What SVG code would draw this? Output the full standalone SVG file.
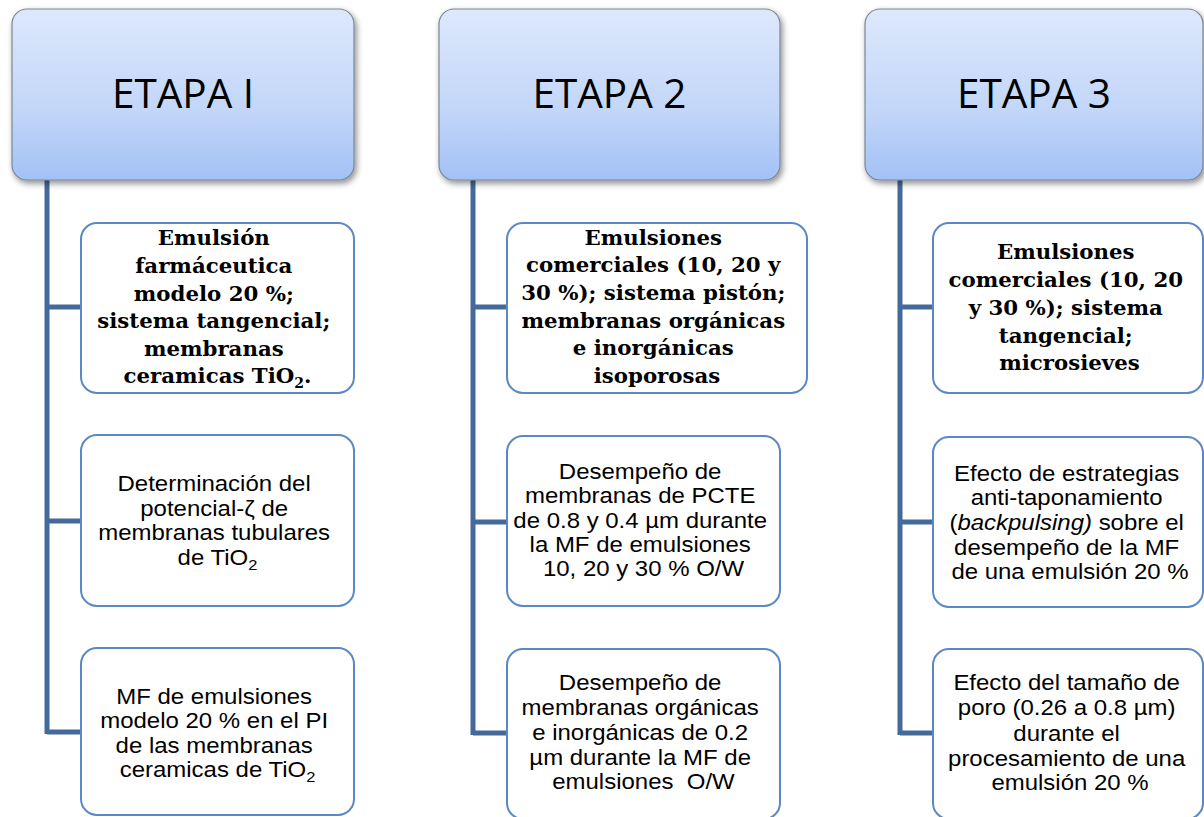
<svg xmlns="http://www.w3.org/2000/svg" width="1204" height="817" viewBox="0 0 1204 817">
<defs>
<linearGradient id="hg" x1="0" y1="0" x2="0" y2="1">
<stop offset="0" stop-color="#dde8fc"/>
<stop offset="0.6" stop-color="#c2d6f8"/>
<stop offset="1" stop-color="#a2c1f5"/>
</linearGradient>
<filter id="sh" x="-10%" y="-10%" width="125%" height="130%">
<feGaussianBlur in="SourceAlpha" stdDeviation="3"/>
<feOffset dx="2" dy="3" result="b"/>
<feComponentTransfer><feFuncA type="linear" slope="0.45"/></feComponentTransfer>
<feMerge><feMergeNode/><feMergeNode in="SourceGraphic"/></feMerge>
</filter>
</defs>
<style>
.hdr{fill:url(#hg);stroke:#7b8796;stroke-width:1.2;filter:url(#sh)}
.box{fill:#ffffff;stroke:#5b88c6;stroke-width:2}
.ht{font-family:"Open Sans","Liberation Sans",sans-serif;font-size:40.5px;fill:#000;text-anchor:middle}
.bt{font-family:"DejaVu Serif","Liberation Serif",serif;font-weight:bold;font-size:21.3px;fill:#000;text-anchor:middle}
.rt{font-family:"Liberation Sans",Arial,sans-serif;font-size:21.8px;fill:#000;text-anchor:middle}
.ln{stroke:#44699b;stroke-width:5;fill:none}
</style>
<g id="connectors">
<path class="ln" d="M47 180 V734 M47 307 H82 M47 521 H82 M47 732 H82"/>
<path class="ln" d="M473 180 V735 M473 307 H508 M473 522 H508 M473 733 H508"/>
<path class="ln" d="M900 180 V735 M900 307 H934 M900 522 H934 M900 733 H934"/>
</g>
<g id="etapa1">
<rect class="hdr" x="12" y="9" width="342" height="171" rx="15"/>
<text class="ht" x="183" y="108">ETAPA I</text>
</g>
<g id="etapa2">
<rect class="hdr" x="439" y="9" width="341" height="171" rx="15"/>
<text class="ht" x="609.5" y="108">ETAPA 2</text>
</g>
<g id="etapa3">
<rect class="hdr" x="865" y="9" width="338" height="171" rx="15"/>
<text class="ht" x="1034" y="108">ETAPA 3</text>
</g>
<g id="e1b1">
<rect class="box" x="81" y="223" width="273" height="170" rx="16"/>
<text class="bt" x="217.5">
<tspan x="217.5" y="245">Emulsión</tspan>
<tspan x="217.5" y="273">farmáceutica</tspan>
<tspan x="217.5" y="300.5">modelo 20 %;</tspan>
<tspan x="217.5" y="327.5">sistema tangencial;</tspan>
<tspan x="217.5" y="355.5">membranas</tspan>
<tspan x="217.5" y="383">ceramicas TiO<tspan font-size="14" dy="5">2</tspan><tspan dy="-5">.</tspan></tspan>
</text>
</g>
<g id="e1b2">
<rect class="box" x="81" y="435" width="273" height="171" rx="16"/>
<text class="rt" transform="matrix(1.1 0 0 1 -21.75 0)">
<tspan x="217.5" y="491">Determinación del</tspan>
<tspan x="217.5" y="516">potencial-ζ de</tspan>
<tspan x="217.5" y="540.5">membranas tubulares</tspan>
<tspan x="217.5" y="565">de TiO<tspan font-size="15" dy="5">2</tspan></tspan>
</text>
</g>
<g id="e1b3">
<rect class="box" x="81" y="648" width="273" height="167" rx="16"/>
<text class="rt" transform="matrix(1.1 0 0 1 -21.75 0)">
<tspan x="217.5" y="704">MF de emulsiones</tspan>
<tspan x="217.5" y="728.5">modelo 20 % en el PI</tspan>
<tspan x="217.5" y="753">de las membranas</tspan>
<tspan x="217.5" y="777.5">ceramicas de TiO<tspan font-size="15" dy="5">2</tspan></tspan>
</text>
</g>
<g id="e2b1">
<rect class="box" x="507" y="223" width="300" height="170" rx="16"/>
<text class="bt">
<tspan x="657" y="245">Emulsiones</tspan>
<tspan x="657" y="272">comerciales (10, 20 y</tspan>
<tspan x="657" y="299.5">30 %); sistema pistón;</tspan>
<tspan x="657" y="327.5">membranas orgánicas</tspan>
<tspan x="657" y="355">e inorgánicas</tspan>
<tspan x="657" y="382.5">isoporosas</tspan>
</text>
</g>
<g id="e2b2">
<rect class="box" x="507" y="436" width="273" height="170" rx="16"/>
<text class="rt" transform="matrix(1.1 0 0 1 -64.35 0)">
<tspan x="643.5" y="479.5">Desempeño de</tspan>
<tspan x="643.5" y="503.5">membranas de PCTE</tspan>
<tspan x="643.5" y="528">de 0.8 y 0.4 µm durante</tspan>
<tspan x="643.5" y="552.5">la MF de emulsiones</tspan>
<tspan x="643.5" y="576.5">10, 20 y 30 % O/W</tspan>
</text>
</g>
<g id="e2b3">
<rect class="box" x="507" y="649" width="273" height="170" rx="16"/>
<text class="rt" transform="matrix(1.1 0 0 1 -64.35 0)">
<tspan x="643.5" y="690.5">Desempeño de</tspan>
<tspan x="643.5" y="715">membranas orgánicas</tspan>
<tspan x="643.5" y="740">e inorgánicas de 0.2</tspan>
<tspan x="643.5" y="765">µm durante la MF de</tspan>
<tspan x="643.5" y="789.5">emulsiones&#160; O/W</tspan>
</text>
</g>
<g id="e3b1">
<rect class="box" x="933" y="223" width="270" height="170" rx="16"/>
<text class="bt">
<tspan x="1069.5" y="259">Emulsiones</tspan>
<tspan x="1069.5" y="287">comerciales (10, 20</tspan>
<tspan x="1069.5" y="315">y 30 %); sistema</tspan>
<tspan x="1069.5" y="342.5">tangencial;</tspan>
<tspan x="1069.5" y="370">microsieves</tspan>
</text>
</g>
<g id="e3b2">
<rect class="box" x="933" y="437" width="270" height="170" rx="16"/>
<text class="rt" transform="matrix(1.1 0 0 1 -107 0)">
<tspan x="1070" y="481">Efecto de estrategias</tspan>
<tspan x="1070" y="505">anti-taponamiento</tspan>
<tspan x="1070" y="530">(<tspan font-style="italic">backpulsing)</tspan> sobre el</tspan>
<tspan x="1070" y="555">desempeño de la MF</tspan>
<tspan x="1070" y="579">de una emulsión 20 %</tspan>
</text>
</g>
<g id="e3b3">
<rect class="box" x="933" y="649" width="270" height="170" rx="16"/>
<text class="rt" transform="matrix(1.1 0 0 1 -107 0)">
<tspan x="1070" y="690.5">Efecto del tamaño de</tspan>
<tspan x="1070" y="715.5">poro (0.26 a 0.8 µm)</tspan>
<tspan x="1070" y="741.5">durante el</tspan>
<tspan x="1070" y="766.5">procesamiento de una</tspan>
<tspan x="1070" y="790">emulsión 20 %</tspan>
</text>
</g>
</svg>
